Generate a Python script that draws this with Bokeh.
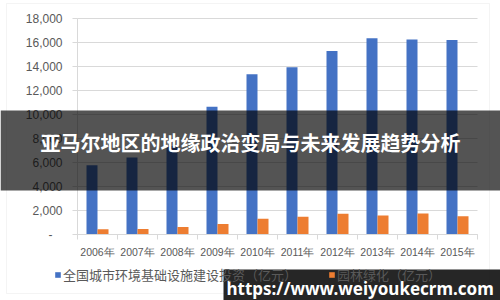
import numpy as np
from bokeh.plotting import figure
from bokeh.models import (Range1d, FixedTicker, NumeralTickFormatter, BoxAnnotation,
                          Label, Legend, LegendItem, ColumnDataSource)
from bokeh.embed import file_html
from bokeh.resources import INLINE

# ---- data ----
years = ["2006年", "2007年", "2008年", "2009年", "2010年",
         "2011年", "2012年", "2013年", "2014年", "2015年"]
investment = [5765, 6419, 7368, 10642, 13364, 13934, 15296, 16350, 16245, 16204]
greening = [430, 450, 620, 870, 1310, 1480, 1730, 1590, 1760, 1530]
series_names = ["全国城市环境基础设施建设投资（亿元）", "园林绿化（亿元）"]
y_ticks = [0, 2000, 4000, 6000, 8000, 10000, 12000, 14000, 16000, 18000]
title_text = "亚马尔地区的地缘政治变局与未来发展趋势分析"
watermark_text = "https://www.weiyoukecrm.com"

# ---- layout / style ----
W, H = 500, 300
FL, FR, FT, FB = 77, 477, 18, 234          # plot-area box in pixels
BLUE, ORANGE = "#4472C4", "#ED7D31"
GRID = "#d9d9d9"
TXT = "#595959"

n = len(years)
ymax = max(y_ticks)
px_cat = (FR - FL) / n
upp = ymax / (FB - FT)
centers = np.arange(n) + 0.5
bar_w = 0.275
src = ColumnDataSource(dict(xb=centers - bar_w / 2, xo=centers + bar_w / 2,
                            inv=investment, gr=greening))

p = figure(width=W, height=H, output_backend="svg", toolbar_location=None,
           x_range=Range1d(-FL / px_cat, n + (W - FR) / px_cat),
           y_range=Range1d(-(H - FB) * upp, ymax + FT * upp),
           min_border_left=0, min_border_right=0, min_border_top=0,
           min_border_bottom=0)
p.outline_line_color = None
p.background_fill_color = "white"
p.border_fill_color = "white"
p.xgrid.visible = False
p.ygrid.visible = False

# horizontal gridlines
p.segment(x0=0, x1=n, y0=y_ticks, y1=y_ticks, line_color=GRID, line_width=1)

r1 = p.vbar(x="xb", top="inv", width=bar_w, source=src, fill_color=BLUE, line_color=None)
r2 = p.vbar(x="xo", top="gr", width=bar_w, source=src, fill_color=ORANGE, line_color=None)

# x axis
xa = p.xaxis[0]
xa.fixed_location = 0
xa.bounds = (0, n)
xa.ticker = FixedTicker(ticks=list(centers), minor_ticks=list(range(n + 1)))
xa.major_label_overrides = {float(c): y for c, y in zip(centers, years)}
xa.major_tick_out = 0
xa.major_tick_in = 0
xa.minor_tick_out = 5
xa.minor_tick_in = 0
xa.minor_tick_line_color = GRID
xa.axis_line_color = GRID
xa.major_label_text_font = "Liberation Sans"
xa.major_label_text_font_size = "10.5px"
xa.major_label_text_color = TXT
xa.major_label_standoff = 6

# y axis
ya = p.yaxis[0]
ya.fixed_location = 0
ya.bounds = (0, ymax)
ya.ticker = FixedTicker(ticks=y_ticks)
ya.formatter = NumeralTickFormatter(format="0,0")
ya.major_label_overrides = {0: "-\u00a0\u00a0\u00a0"}
ya.major_tick_out = 5
ya.major_tick_in = 0
ya.major_tick_line_color = GRID
ya.minor_tick_line_color = None
ya.axis_line_color = GRID
ya.major_label_text_font = "Liberation Sans"
ya.major_label_text_font_size = "12px"
ya.major_label_text_color = TXT
ya.major_label_standoff = 10

# legend
legend = Legend(items=[LegendItem(label=series_names[0], renderers=[r1]),
                       LegendItem(label=series_names[1], renderers=[r2])],
                orientation="horizontal", location=(54, 16),
                glyph_width=7, glyph_height=7, label_height=14, label_standoff=2,
                spacing=31, padding=0, margin=0,
                border_line_color=None, background_fill_alpha=0,
                label_text_font="Noto Sans CJK SC", label_text_font_size="13px",
                label_text_color=TXT)
p.add_layout(legend, "center")

def canvas_box(left, right, top, bottom, **kw):
    return BoxAnnotation(left=left, right=right, top=top, bottom=bottom,
                         left_units="canvas", right_units="canvas",
                         top_units="canvas", bottom_units="canvas", **kw)

# chart-area border
p.add_layout(canvas_box(6, 489, 3, 293, fill_alpha=0, line_color=GRID, line_width=1))

# dark banner with title
p.add_layout(canvas_box(0, W, 110, 190, fill_color="black", fill_alpha=0.67,
                        line_color=None))
p.add_layout(Label(x=W / 2, y=142, x_units="canvas", y_units="canvas",
                   text=title_text, text_align="center", text_baseline="middle",
                   text_font="Noto Sans CJK SC", text_font_style="bold",
                   text_font_size="20px", text_color="white"))

# watermark
p.add_layout(canvas_box(223, W, 269, H, fill_color="black", fill_alpha=0.85,
                        line_color=None))
p.add_layout(Label(x=226, y=287.5, x_units="canvas", y_units="canvas",
                   text=watermark_text, text_align="left", text_baseline="middle",
                   text_font="Noto Sans", text_font_style="bold",
                   text_font_size="17px", text_color="white"))

open("out.html", "w").write(file_html(p, INLINE))
